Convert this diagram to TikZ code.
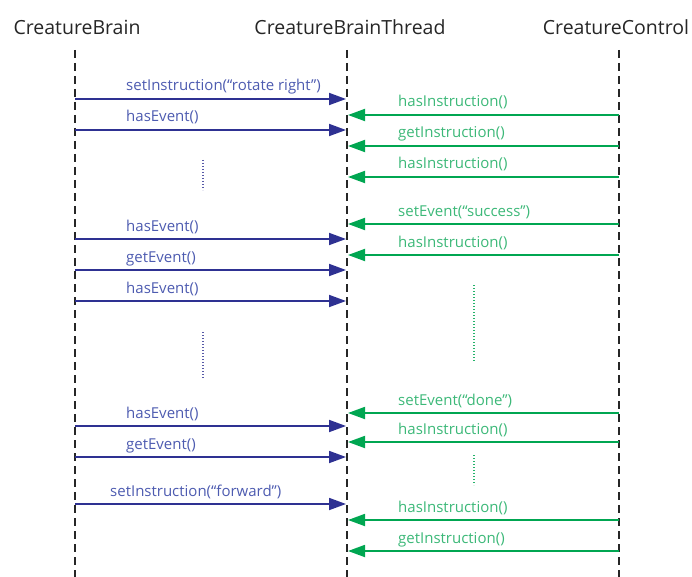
\documentclass[tikz,border=0pt]{standalone}
\usepackage{fontspec}
\setmainfont{Open Sans}
\usetikzlibrary{arrows.meta}
\definecolor{callblue}{HTML}{2E3192}
\definecolor{calltext}{HTML}{4D5BB0}
\definecolor{replygreen}{HTML}{00A651}
\definecolor{replytext}{HTML}{3CB878}
\tikzset{
  head/.style={font=\fontsize{19.5}{22}\selectfont, text=black!85, inner sep=0pt},
  lifeline/.style={black!85, line width=1.5pt, dash pattern=on 8pt off 5pt},
  call/.style={callblue, line width=1.8pt, -{Triangle[length=17pt,width=12pt]}},
  reply/.style={replygreen, line width=1.8pt, -{Triangle[length=17pt,width=12pt]}},
  calllabel/.style={anchor=base west, inner sep=0pt, text=calltext, font=\fontsize{15}{17}\selectfont},
  replylabel/.style={anchor=base west, inner sep=0pt, text=replytext, font=\fontsize{15}{17}\selectfont},
  gapblue/.style={callblue!80, line width=1.3pt, dash pattern=on 1.3pt off 1.7pt},
  gapgreen/.style={replygreen!85, line width=1.3pt, dash pattern=on 1.3pt off 1.7pt}
}
\begin{document}
\begin{tikzpicture}[x=1pt,y=-1pt]
\useasboundingbox (0,0) rectangle (692,577);

% object headers
\node[head] (brain)  at (77,27)  {CreatureBrain};
\node[head] (thread) at (350,27) {CreatureBrainThread};
\node[head] (ctrl)   at (616,27) {CreatureControl};

% lifelines
\coordinate (brainTop)  at (75,50);  \coordinate (brainEnd)  at (75,577);
\coordinate (threadTop) at (347,50); \coordinate (threadEnd) at (347,577);
\coordinate (ctrlTop)   at (619,50); \coordinate (ctrlEnd)   at (619,577);
\draw[lifeline] (brainTop) -- (brainEnd);
\draw[lifeline] (threadTop) -- (threadEnd);
\draw[lifeline] (ctrlTop) -- (ctrlEnd);

% calls from CreatureBrain to CreatureBrainThread
\foreach \y/\lx/\txt [count=\i] in {
  99/126/{setInstruction(“rotate right”)},
  130/126/{hasEvent()},
  239/126/{hasEvent()},
  270/126/{getEvent()},
  301/126/{hasEvent()},
  426/126/{hasEvent()},
  457/126/{getEvent()},
  504/110/{setInstruction(“forward”)}}{
  \coordinate (cs\i) at (75,\y);
  \coordinate (ce\i) at (346,\y);
  \draw[call] (cs\i) -- (ce\i);
  \node[calllabel] (cl\i) at (\lx,\y-8) {\txt};
}

% replies from CreatureControl to CreatureBrainThread
\foreach \y/\txt [count=\i] in {
  115/{hasInstruction()},
  146/{getInstruction()},
  177/{hasInstruction()},
  224/{setEvent(“success”)},
  255/{hasInstruction()},
  413/{setEvent(“done”)},
  442/{hasInstruction()},
  520/{hasInstruction()},
  551/{getInstruction()}}{
  \coordinate (rs\i) at (619,\y);
  \coordinate (re\i) at (348,\y);
  \draw[reply] (rs\i) -- (re\i);
  \node[replylabel] (rl\i) at (398,\y-8) {\txt};
}

% elided sequences
\coordinate (ga1) at (203,160); \coordinate (gb1) at (203,190);
\coordinate (ga2) at (203,332); \coordinate (gb2) at (203,378);
\coordinate (gc1) at (474,285); \coordinate (gd1) at (474,362);
\coordinate (gc2) at (474,455); \coordinate (gd2) at (474,485);
\draw[gapblue] (ga1) -- (gb1);
\draw[gapblue] (ga2) -- (gb2);
\draw[gapgreen] (gc1) -- (gd1);
\draw[gapgreen] (gc2) -- (gd2);
\end{tikzpicture}
\end{document}
